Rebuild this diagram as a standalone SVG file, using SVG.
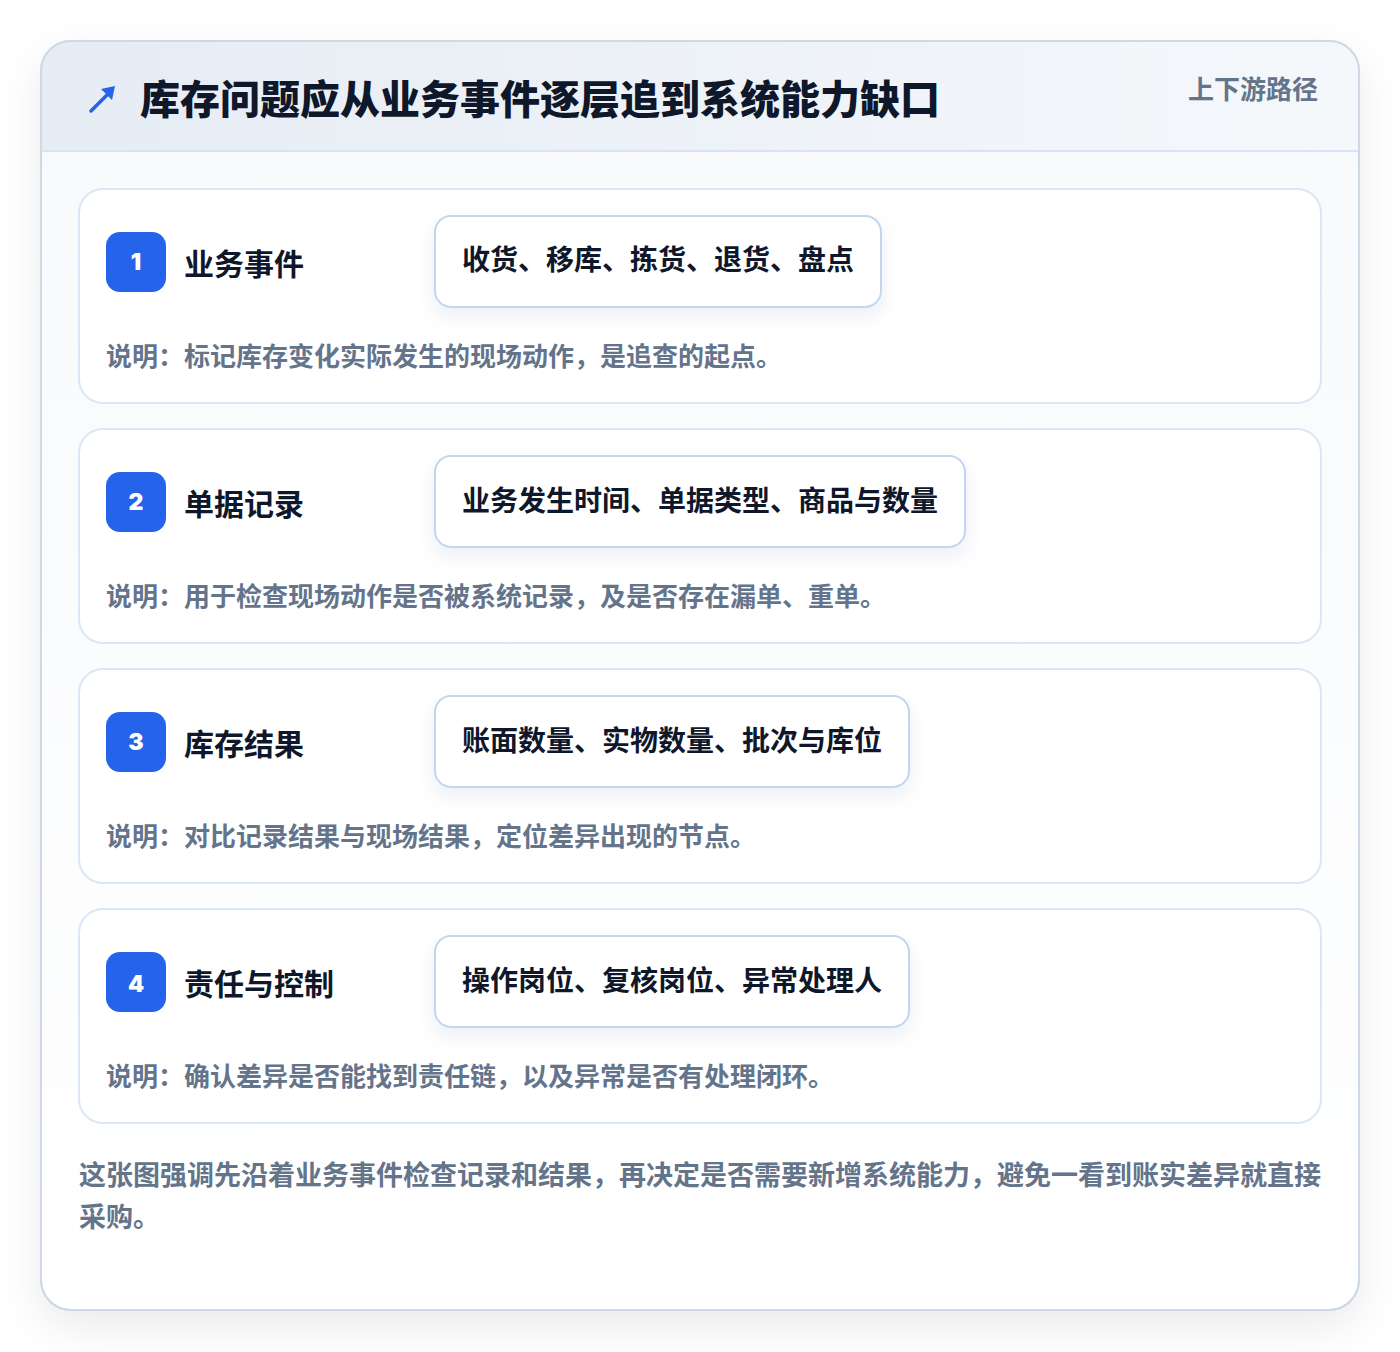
<svg xmlns="http://www.w3.org/2000/svg" width="1400" height="1352" viewBox="0 0 1400 1352">
<defs>
<linearGradient id="hdr" x1="0" y1="0" x2="1" y2="0">
<stop offset="0" stop-color="#e6ecf4"/>
<stop offset="1" stop-color="#f5f8fb"/>
</linearGradient>
<linearGradient id="body" x1="0" y1="0" x2="0" y2="1">
<stop offset="0" stop-color="#f7f9fc"/>
<stop offset="1" stop-color="#ffffff"/>
</linearGradient>
<clipPath id="cardclip"><rect x="41" y="41" width="1318" height="1269" rx="30"/></clipPath>
<filter id="outer" x="-10%" y="-10%" width="120%" height="120%">
<feDropShadow dx="0" dy="16" stdDeviation="20" flood-color="#0f172a" flood-opacity="0.08"/>
</filter>
<filter id="pill" x="-20%" y="-30%" width="140%" height="170%">
<feDropShadow dx="0" dy="8" stdDeviation="9" flood-color="#1e3a8a" flood-opacity="0.08"/>
</filter>
<style>
.card{fill:#ffffff;stroke:#dce7f5;stroke-width:2}
.badge{fill:#2563eb}
.num{font-family:"Inter","Liberation Sans",sans-serif;font-weight:900;font-size:23px;fill:#ffffff;text-anchor:middle}
.lbl{font-family:"Noto Sans CJK SC",sans-serif;font-weight:700;font-size:30px;fill:#0f172a}
.pillbox{fill:#ffffff;stroke:#c3d6f0;stroke-width:2}
.pilltxt{font-family:"Noto Sans CJK SC",sans-serif;font-weight:700;font-size:28px;fill:#0f172a}
.desc{font-family:"Noto Sans CJK SC",sans-serif;font-weight:700;font-size:26px;fill:#64748b}
.foot{font-family:"Noto Sans CJK SC",sans-serif;font-weight:700;font-size:27px;fill:#64748b}
</style>
</defs>
<rect width="1400" height="1352" fill="#ffffff"/>
<g id="frame">
<rect x="41" y="41" width="1318" height="1269" rx="30" fill="url(#body)" stroke="#cfd9e6" stroke-width="2" filter="url(#outer)"/>
<g clip-path="url(#cardclip)">
<rect x="41" y="41" width="1318" height="110" fill="url(#hdr)"/>
</g>
<line x1="42" y1="151" x2="1358" y2="151" stroke="#d6e4f5" stroke-width="2"/>
<rect x="41" y="41" width="1318" height="1269" rx="30" fill="none" stroke="#cfd9e6" stroke-width="2"/>
</g>
<g id="header">
<line x1="91" y1="111" x2="110" y2="92" stroke="#2563eb" stroke-width="3.5" stroke-linecap="round"/>
<path d="M115,86 L101,89 L112,100 Z" fill="#2563eb"/>
<text x="140" y="114" font-family="Noto Sans CJK SC, sans-serif" font-weight="800" font-size="40" fill="#0f172a">库存问题应从业务事件逐层追到系统能力缺口</text>
<text x="1318" y="99" font-family="Noto Sans CJK SC, sans-serif" font-weight="700" font-size="26" fill="#64748b" text-anchor="end">上下游路径</text>
</g>
<g id="step1">
<rect class="card" x="79" y="189" width="1242" height="214" rx="24"/>
<rect class="badge" x="106" y="232" width="60" height="60" rx="14"/>
<text class="num" x="136" y="270">1</text>
<text class="lbl" x="184" y="275">业务事件</text>
<rect class="pillbox" x="435" y="216" width="446" height="91" rx="16" filter="url(#pill)"/>
<text class="pilltxt" x="462" y="270">收货、移库、拣货、退货、盘点</text>
<text class="desc" x="106" y="366">说明：标记库存变化实际发生的现场动作，是追查的起点。</text>
</g>
<g id="step2">
<rect class="card" x="79" y="429" width="1242" height="214" rx="24"/>
<rect class="badge" x="106" y="472" width="60" height="60" rx="14"/>
<text class="num" x="136" y="510">2</text>
<text class="lbl" x="184" y="515">单据记录</text>
<rect class="pillbox" x="435" y="456" width="530" height="91" rx="16" filter="url(#pill)"/>
<text class="pilltxt" x="462" y="511">业务发生时间、单据类型、商品与数量</text>
<text class="desc" x="106" y="606">说明：用于检查现场动作是否被系统记录，及是否存在漏单、重单。</text>
</g>
<g id="step3">
<rect class="card" x="79" y="669" width="1242" height="214" rx="24"/>
<rect class="badge" x="106" y="712" width="60" height="60" rx="14"/>
<text class="num" x="136" y="750">3</text>
<text class="lbl" x="184" y="755">库存结果</text>
<rect class="pillbox" x="435" y="696" width="474" height="91" rx="16" filter="url(#pill)"/>
<text class="pilltxt" x="462" y="751">账面数量、实物数量、批次与库位</text>
<text class="desc" x="106" y="846">说明：对比记录结果与现场结果，定位差异出现的节点。</text>
</g>
<g id="step4">
<rect class="card" x="79" y="909" width="1242" height="214" rx="24"/>
<rect class="badge" x="106" y="952" width="60" height="60" rx="14"/>
<text class="num" x="136" y="992">4</text>
<text class="lbl" x="184" y="995">责任与控制</text>
<rect class="pillbox" x="435" y="936" width="474" height="91" rx="16" filter="url(#pill)"/>
<text class="pilltxt" x="462" y="991">操作岗位、复核岗位、异常处理人</text>
<text class="desc" x="106" y="1086">说明：确认差异是否能找到责任链，以及异常是否有处理闭环。</text>
</g>
<g id="connectors"></g>
<g id="footer">
<text class="foot" x="79" y="1185">这张图强调先沿着业务事件检查记录和结果，再决定是否需要新增系统能力，避免一看到账实差异就直接</text>
<text class="foot" x="79" y="1227">采购。</text>
</g>
</svg>
